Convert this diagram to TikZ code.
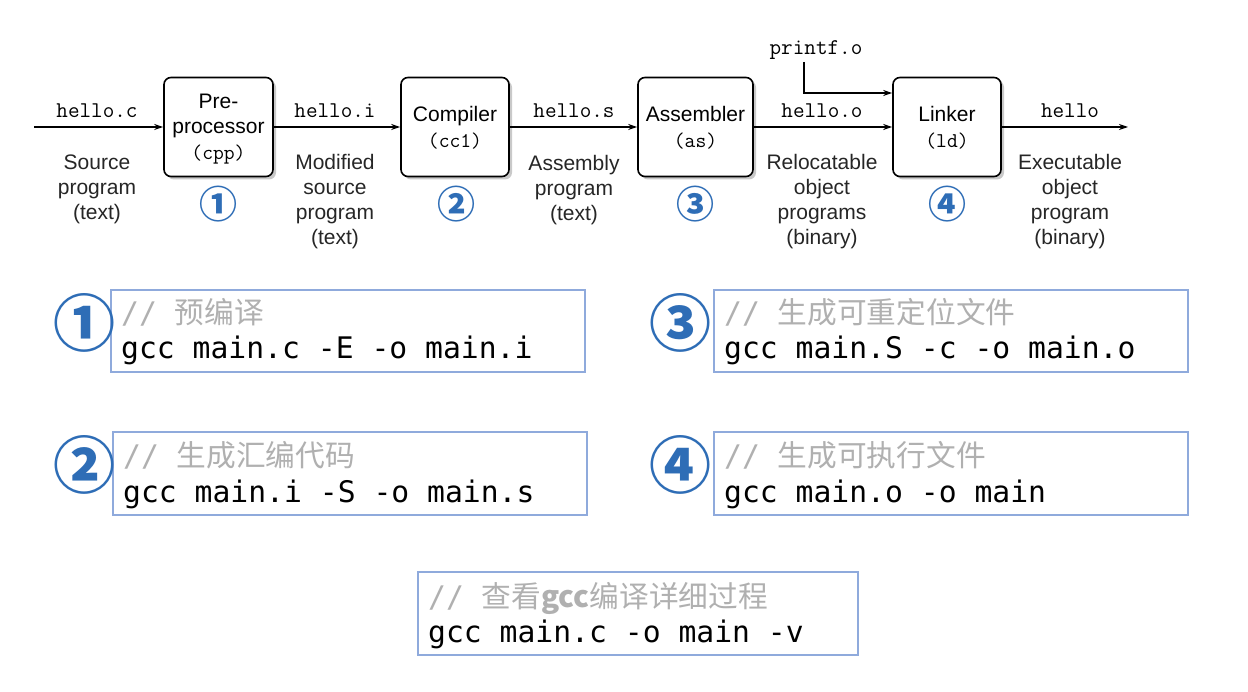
\documentclass[tikz,border=0pt]{standalone}
\usepackage{fontspec}
\setmainfont{Liberation Sans}
\newfontfamily\cjk{Noto Sans CJK SC}
\newfontfamily\code{DejaVu Sans Mono}
\usetikzlibrary{shadows,arrows.meta,calc}
\definecolor{numblue}{HTML}{2E6DB6}
\definecolor{boxblue}{HTML}{8FAADC}
\definecolor{cmtgray}{HTML}{B0B0B0}
\tikzset{
  proc/.style={draw=black, line width=1.6pt, rounded corners=7pt, fill=white,
    minimum height=99pt, align=center, inner sep=0pt,
    drop shadow={shadow xshift=3pt, shadow yshift=-3pt, fill=black!35, opacity=0.6},
    font=\fontsize{21}{25.5}\selectfont},
  arr/.style={line width=1.1pt, -{Stealth[length=9pt,width=6pt]}},
  fname/.style={font=\ttfamily\fontsize{22.5}{24}\selectfont, inner sep=0pt},
  desc/.style={align=center, inner sep=0pt, font=\fontsize{21}{25}\selectfont, text=black!85},
  cnum/.style={text=numblue, inner sep=0pt, font=\cjk\bfseries\fontsize{38}{38}\selectfont},
  bnum/.style={text=numblue, inner sep=0pt, font=\cjk\bfseries\fontsize{62}{62}\selectfont},
  codebox/.style={draw=boxblue, line width=1.3pt, fill=white},
  cmt/.style={anchor=base west, inner sep=0pt, text=cmtgray, font=\code\fontsize{29.7}{30}\selectfont},
  cmd/.style={anchor=base west, inner sep=0pt, text=black, font=\code\fontsize{29.7}{30}\selectfont},
  boxtxt/.style={align=center, inner sep=0pt, font=\fontsize{21}{25.5}\selectfont},
}
\begin{document}
\begin{tikzpicture}[x=1pt,y=-1pt]
\useasboundingbox[fill=white] (0,0) rectangle (1248,692);
% process boxes
\node[proc, minimum width=109pt] (pp) at (218.5,127) {};
\node[proc, minimum width=108pt] (cc) at (455,127) {};
\node[proc, minimum width=115pt] (as) at (695.5,127) {};
\node[proc, minimum width=108pt] (ld) at (947,127) {};
\node[boxtxt] (tpp) at (218.5,129) {Pre-\\processor\\{\ttfamily (cpp)}};
\node[boxtxt] (tcc) at (455,128) {Compiler\\{\ttfamily (cc1)}};
\node[boxtxt] (tas) at (695.5,128) {Assembler\\{\ttfamily (as)}};
\node[boxtxt] (tld) at (947,128) {Linker\\{\ttfamily (ld)}};
% connectors
\coordinate (in) at (34,127);
\coordinate (out) at (1128,127);
\coordinate (p1) at (804,62);
\draw[arr] (in) -- (pp.west);
\draw[arr] (pp.east) -- (cc.west);
\draw[arr] (cc.east) -- (as.west);
\draw[arr] (as.east) -- (ld.west);
\draw[arr] (ld.east) -- (out);
\draw[arr] (p1) |- ($(ld.west)+(0,-34)$);
% file names
\node[fname] (f1) at (97,111) {hello.c};
\node[fname] (f2) at (335,111) {hello.i};
\node[fname] (f3) at (574,111) {hello.s};
\node[fname] (f4) at (822,111) {hello.o};
\node[fname] (f5) at (1070,111) {hello};
\node[fname] (f6) at (816,50) {printf.o};
% descriptions
\node[desc] (d1) at (97,189) {Source\\program\\(text)};
\node[desc] (d2) at (335,202) {Modified\\source\\program\\(text)};
\node[desc] (d3) at (574,190) {Assembly\\program\\(text)};
\node[desc] (d4) at (822,202) {Relocatable\\object\\programs\\(binary)};
\node[desc] (d5) at (1070,202) {Executable\\object\\program\\(binary)};
% small numbers
\node[cnum] (n1) at (218,204) {①};
\node[cnum] (n2) at (456,204) {②};
\node[cnum] (n3) at (695,204) {③};
\node[cnum] (n4) at (947,204) {④};
% code boxes
\draw[codebox] (111,290) rectangle (585,372);
\draw[codebox] (113,432) rectangle (587,515);
\draw[codebox] (714,290) rectangle (1188,372);
\draw[codebox] (714,432) rectangle (1188,515);
\draw[codebox] (418,572) rectangle (858,655);
% big numbers
\node[bnum] (b1) at (84,323) {①};
\node[bnum] (b2) at (84,465) {②};
\node[bnum] (b3) at (680,323) {③};
\node[bnum] (b4) at (680,465) {④};
% code text
\node[cmt] (c1) at (121,324) {// {\cjk 预编译}};
\node[cmd] (g1) at (121,359) {gcc main.c -E -o main.i};
\node[cmt] (c2) at (123,467) {// {\cjk 生成汇编代码}};
\node[cmd] (g2) at (123,502) {gcc main.i -S -o main.s};
\node[cmt] (c3) at (724,324) {// {\cjk 生成可重定位文件}};
\node[cmd] (g3) at (724,359) {gcc main.S -c -o main.o};
\node[cmt] (c4) at (724,467) {// {\cjk 生成可执行文件}};
\node[cmd] (g4) at (724,502) {gcc main.o -o main};
\node[cmt] (c5) at (428,607) {// {\cjk 查看{\bfseries gcc}编译详细过程}};
\node[cmd] (g5) at (428,642) {gcc main.c -o main -v};
\end{tikzpicture}
\end{document}
